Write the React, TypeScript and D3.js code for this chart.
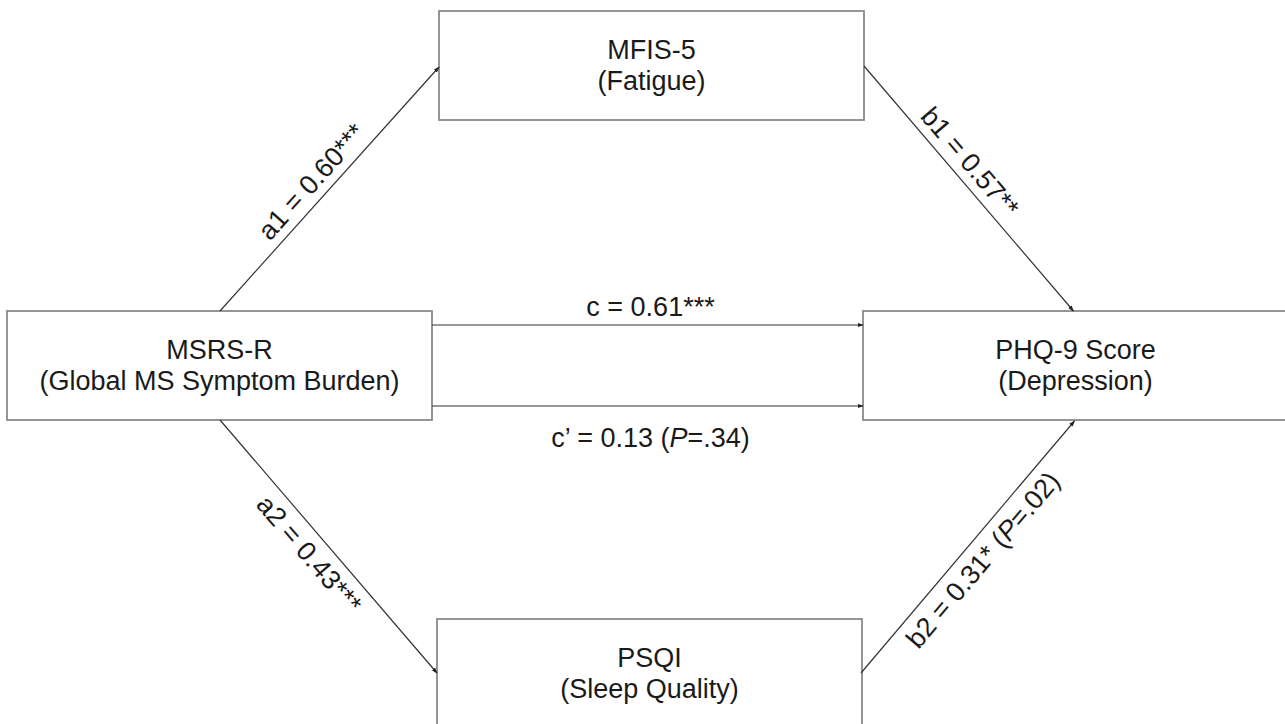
import React, { useEffect, useRef } from "react";
import * as d3 from "d3";

// Variables in the mediation model
const nodeNames = ["MSRS-R", "MFIS-5", "PSQI", "PHQ-9 Score"];
const nodeSubtitles = ["(Global MS Symptom Burden)", "(Fatigue)", "(Sleep Quality)", "(Depression)"];

// Paths: from -> to, coefficient, stars, p value
const pathNames = ["a1", "b1", "a2", "b2", "c", "c\u2019"];
const pathFrom = [0, 1, 0, 2, 0, 0];
const pathTo = [1, 3, 2, 3, 3, 3];
const pathCoefs = [0.6, 0.57, 0.43, 0.31, 0.61, 0.13];
const pathStars = ["***", "**", "***", "*", "***", ""];
const pathP = ["", "", "", ".02", "", ".34"];

const W = 1285;
const H = 724;
const BOX_W = 425;
const BOX_H = 109;

// top-left corners of boxes (layout)
const boxPos = [
  { x: 7, y: 311 },
  { x: 439, y: 11 },
  { x: 437, y: 619 },
  { x: 863, y: 311 },
];

const App = () => {
  const ref = useRef<SVGSVGElement | null>(null);

  useEffect(() => {
    const svg = d3.select(ref.current);
    svg.selectAll("*").remove();

    const font = "'Liberation Sans', Arial, sans-serif";

    svg
      .append("defs")
      .append("marker")
      .attr("id", "arr")
      .attr("viewBox", "0 -3 6 6")
      .attr("refX", 5.5)
      .attr("refY", 0)
      .attr("markerWidth", 6)
      .attr("markerHeight", 6)
      .attr("markerUnits", "userSpaceOnUse")
      .attr("orient", "auto")
      .append("path")
      .attr("d", "M0,-2.2L6,0L0,2.2Z")
      .attr("fill", "#222");

    const fmt = d3.format(".2f");
    const boxes = nodeNames.map((n, i) => ({ name: n, sub: nodeSubtitles[i], ...boxPos[i] }));

    // anchor points for each path (depends on which boxes it joins)
    const endpoints = (i: number) => {
      const a = boxes[pathFrom[i]];
      const b = boxes[pathTo[i]];
      if (pathNames[i] === "c") return [a.x + BOX_W, a.y + 14, b.x, b.y + 14];
      if (pathNames[i] === "c\u2019") return [a.x + BOX_W, a.y + BOX_H - 14, b.x, b.y + BOX_H - 14];
      if (pathFrom[i] === 0 && b.y < a.y) return [a.x + BOX_W / 2 + 0.5, a.y, b.x, b.y + 56];
      if (pathFrom[i] === 0) return [a.x + BOX_W / 2 + 0.5, a.y + BOX_H, b.x, b.y + 54];
      if (a.y < b.y) return [a.x + BOX_W, a.y + 55, b.x + BOX_W / 2 - 2, b.y];
      return [a.x + BOX_W - 1, a.y + 54, b.x + BOX_W / 2 - 1, b.y + BOX_H + 1];
    };

    // boxes
    const g = svg.selectAll(".node").data(boxes).enter().append("g").attr("class", "node");
    g.append("rect")
      .attr("x", (d) => d.x)
      .attr("y", (d) => d.y)
      .attr("width", BOX_W)
      .attr("height", BOX_H)
      .attr("fill", "#fff")
      .attr("stroke", "#8a8a8a")
      .attr("stroke-width", 1.8);
    g.append("text")
      .attr("x", (d) => d.x + BOX_W / 2)
      .attr("y", (d) => d.y + 48)
      .attr("text-anchor", "middle")
      .style("font-family", font)
      .style("font-size", "27px")
      .attr("fill", "#1a1a1a")
      .text((d) => d.name);
    g.append("text")
      .attr("x", (d) => d.x + BOX_W / 2)
      .attr("y", (d) => d.y + 79)
      .attr("text-anchor", "middle")
      .style("font-family", font)
      .style("font-size", "27px")
      .attr("fill", "#1a1a1a")
      .text((d) => d.sub);

    // arrows
    pathNames.forEach((p, i) => {
      const [x1, y1, x2, y2] = endpoints(i);
      svg
        .append("line")
        .attr("x1", x1)
        .attr("y1", y1)
        .attr("x2", x2)
        .attr("y2", y2)
        .attr("stroke", "#333")
        .attr("stroke-width", 1.2)
        .attr("marker-end", "url(#arr)");

      const horizontal = y1 === y2;
      let tx: number, ty: number, ang: number;
      if (horizontal) {
        tx = (x1 + x2) / 2 + 3;
        ty = p === "c" ? y1 - 9 : y1 + 41;
        ang = 0;
      } else {
        // keep text reading left to right
        const dx = x2 - x1;
        const dy = y2 - y1;
        const len = Math.hypot(dx, dy);
        const ux = dx / len;
        const uy = dy / len;
        const t = p === "b1" ? 0.44 : p === "b2" ? 0.5 : 0.48;
        const mx = x1 + dx * t;
        const my = y1 + dy * t;
        ang = (Math.atan2(dy, dx) * 180) / Math.PI;
        // glyph "up" direction
        const nx = uy;
        const ny = -ux;
        // a1/b1 sit above the line, a2/b2 below it
        const off = p === "a1" || p === "b1" ? 9 : -29;
        tx = mx + nx * off;
        ty = my + ny * off;
      }
      const txt = svg
        .append("text")
        .attr("text-anchor", "middle")
        .attr("transform", `translate(${tx},${ty}) rotate(${ang})`)
        .style("font-family", font)
        .style("font-size", "27px")
        .attr("fill", "#1a1a1a");
      txt.append("tspan").text(`${p} = ${fmt(pathCoefs[i])}${pathStars[i]}`);
      if (pathP[i]) {
        txt.append("tspan").text(" (");
        txt.append("tspan").style("font-style", "italic").text("P");
        txt.append("tspan").text(`=${pathP[i]})`);
      }
    });
  }, []);

  return (
    <svg
      ref={ref}
      width={W}
      height={H}
      style={{ position: "absolute", left: 0, top: 0, background: "#fff" }}
    />
  );
};

export default App;
